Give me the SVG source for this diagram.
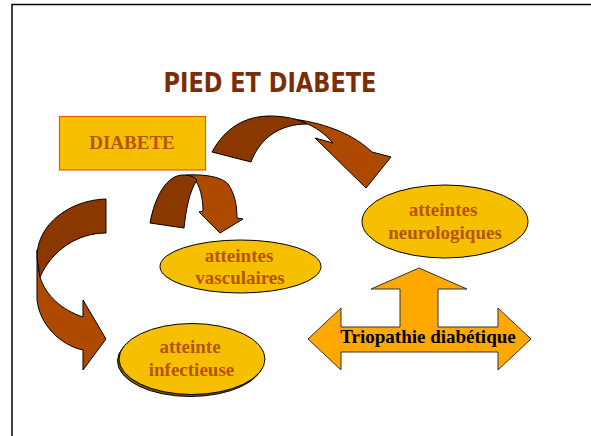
<svg xmlns="http://www.w3.org/2000/svg" width="591" height="436" viewBox="0 0 591 436">
<style>
.title{font-family:"DejaVu Sans","Liberation Sans",sans-serif;font-weight:bold;font-size:22.5px;fill:#7a2e08;text-anchor:middle}
.lbl{font-family:"Liberation Serif","Times New Roman",serif;font-weight:bold;font-size:19px;fill:#b45400;text-anchor:middle}
.tri{font-family:"Liberation Serif","Times New Roman",serif;font-weight:bold;font-size:19px;fill:#000;text-anchor:middle}
.node{fill:#f6c000;stroke:#000;stroke-width:1}
.dark{fill:#8b3800;stroke:#000;stroke-width:1;stroke-linejoin:round}
.light{fill:#ad4a00;stroke:#000;stroke-width:1;stroke-linejoin:round}
</style>
<rect x="0" y="0" width="591" height="436" fill="#fff"/>
<path d="M12,436 L12,4.5 L591,4.5" fill="none" stroke="#000" stroke-width="1.5"/>
<text class="title" transform="translate(270,92) scale(1,1.2)" x="0" y="0">PIED ET DIABETE</text>
<g id="diabete">
<rect x="59.5" y="116.5" width="146" height="53.5" fill="#f6c000" stroke="#e06000" stroke-width="1.2"/>
<text class="lbl" x="132" y="149">DIABETE</text>
</g>
<g id="connectors">
<g id="arrow-neuro">
<path class="light" d="M293,119 C330,124 355,136 372,152 L391,157 L366,188 L315,138 L333,143 C325,134 316,127 305,123 Z"/>
<path class="dark" d="M212,152 C225,128 245,116 270,116 C285,116 298,119 307,124 C280,124 260,138 251,162 Z"/>
</g>
<g id="arrow-vasc">
<path class="light" d="M186,175 C205,174 222,177 228,184 C235,194 237,206 237,218 L243,219 L220,233 L199,212 L203,211 C203,198 200,186 194,178 Z"/>
<path class="dark" d="M150,223 C155,196 167,175 183,175 C190,175 195,177 197,180 C189,192 186,210 184,228 Z"/>
</g>
<g id="arrow-infect">
<path class="light" d="M37,250 L37,300 C40,325 60,345 83,350 L83,370 L106,339 L83,300 L83,317 C62,310 46,296 40,277 Z"/>
<path class="dark" d="M106,199 C70,200 37,224 37,257 C38,265 39,272 40,277 C52,250 78,233 106,233 Z"/>
</g>
</g>
<g id="vasculaires">
<ellipse class="node" cx="240.5" cy="266.5" rx="80.5" ry="26.5"/>
<text class="lbl" x="239" y="262">atteintes</text>
<text class="lbl" x="240" y="284">vasculaires</text>
</g>
<g id="infectieuse">
<ellipse cx="190.5" cy="361" rx="73" ry="35.5" fill="#7a5a00" stroke="#000" stroke-width="1"/>
<ellipse class="node" cx="192" cy="359" rx="73" ry="35.5"/>
<text class="lbl" x="190" y="353">atteinte</text>
<text class="lbl" x="191.5" y="376">infectieuse</text>
</g>
<g id="neurologiques">
<ellipse class="node" cx="445" cy="221.5" rx="83" ry="36.5"/>
<text class="lbl" x="443" y="216">atteintes</text>
<text class="lbl" x="445" y="239">neurologiques</text>
</g>
<g id="triopathie">
<path d="M419,268 L467,289 L438,289 L438,327 L498,327 L498,308 L531,339 L498,370 L498,352 L341,352 L341,370 L308,339 L341,308 L341,327 L400,327 L400,289 L371,289 Z" fill="#ffa800" stroke="#333" stroke-width="1" stroke-linejoin="miter"/>
<text class="tri" x="428" y="343">Triopathie diabétique</text>
</g>
</svg>
